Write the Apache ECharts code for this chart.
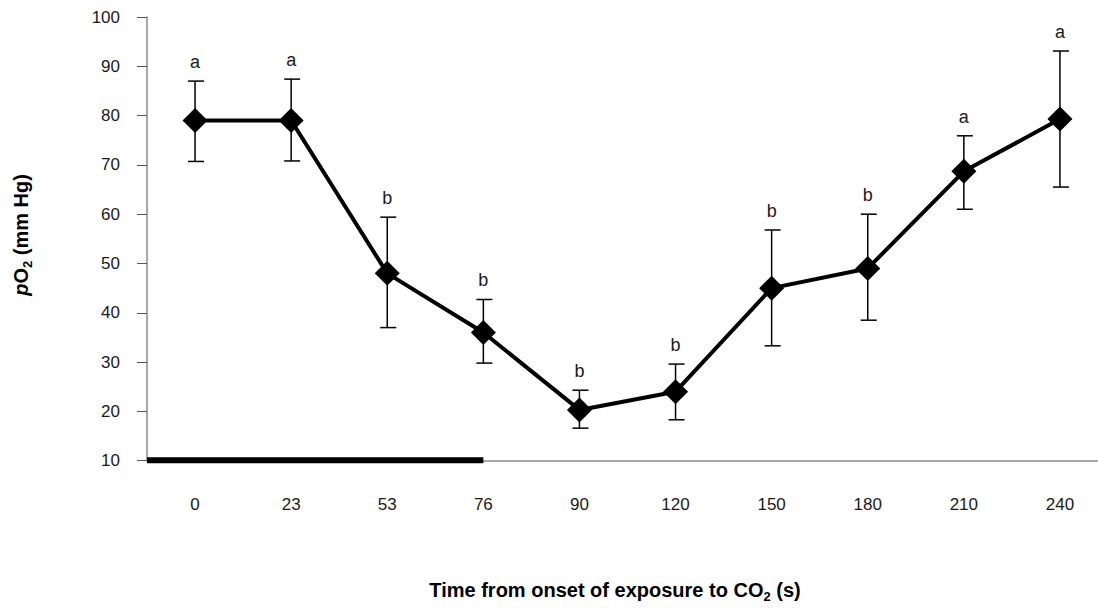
<!DOCTYPE html>
<html>
<head>
<meta charset="utf-8">
<script src="https://cdn.jsdelivr.net/npm/echarts@6/dist/echarts.min.js"></script>
<style>
html,body{margin:0;padding:0;background:#fff;}
#chart{width:1098px;height:608px;}
</style>
</head>
<body>
<div id="chart"></div>
<script>
// ---- data ----
const categories = ['0', '23', '53', '76', '90', '120', '150', '180', '210', '240'];
const meanPO2 = [79, 79, 48, 36, 20.3, 24, 45, 49, 68.7, 79.3];
const errLow  = [70.7, 70.8, 37, 29.8, 16.6, 18.3, 33.3, 38.5, 61, 65.5];
const errHigh = [87, 87.4, 59.4, 42.7, 24.3, 29.6, 56.8, 60, 75.9, 93.1];
const groupLetters = ['a', 'a', 'b', 'b', 'b', 'b', 'b', 'b', 'a', 'a'];
const co2Exposure = ['0', '76'];   // exposure period (start category, end category)
const yTicks = { min: 10, max: 100, interval: 10 };

const textColor = '#1a1a1a';
const fontFam = 'Liberation Sans, Arial, sans-serif';

const errData = categories.map((c, i) => [i, errLow[i], errHigh[i], groupLetters[i]]);

const chart = echarts.init(document.getElementById('chart'), null, { renderer: 'svg' });

const rich = {
  b: { fontSize: 20, fontWeight: 'bold', fontFamily: fontFam, color: textColor, lineHeight: 26 },
  i: { fontSize: 20, fontWeight: 'bold', fontStyle: 'italic', fontFamily: fontFam, color: textColor, lineHeight: 26 },
  s: { fontSize: 13, fontWeight: 'bold', fontFamily: fontFam, color: textColor, verticalAlign: 'bottom' }
};

chart.setOption({
  animation: false,
  backgroundColor: '#fff',
  grid: { left: 147, top: 17, width: 961, height: 443.7, containLabel: false, outerBoundsMode: 'none' },
  xAxis: {
    type: 'category',
    data: categories,
    boundaryGap: true,
    axisLine: { lineStyle: { color: '#8a8a8a', width: 1.5 } },
    axisTick: { alignWithLabel: true, length: 9, lineStyle: { color: '#333', width: 1 } },
    axisLabel: { margin: 35, fontSize: 17, color: textColor, fontFamily: fontFam },
    splitLine: { show: false }
  },
  yAxis: {
    type: 'value',
    min: yTicks.min, max: yTicks.max, interval: yTicks.interval,
    axisLine: { show: true, lineStyle: { color: '#8a8a8a', width: 1.5 } },
    axisTick: { show: true, length: 10, lineStyle: { color: '#555', width: 1 } },
    axisLabel: { margin: 27, fontSize: 17, color: textColor, fontFamily: fontFam },
    splitLine: { show: false }
  },
  graphic: [
    {
      type: 'text', x: 615, y: 590,
      style: {
        text: '{b|Time from onset of exposure to CO}{s|2}{b| (s)}',
        rich: rich, align: 'center', verticalAlign: 'middle'
      }
    },
    {
      type: 'text', x: 21, y: 235, rotation: Math.PI / 2,
      style: {
        text: '{i|p}{b|O}{s|2}{b| (mm Hg)}',
        rich: rich, align: 'center', verticalAlign: 'middle'
      }
    }
  ],
  series: [
    {
      type: 'custom',
      name: 'CO2 exposure',
      z: 5,
      data: [[categories.indexOf(co2Exposure[0]), categories.indexOf(co2Exposure[1]), yTicks.min]],
      renderItem: function (params, api) {
        const s = api.coord([api.value(0), api.value(2)]);
        const e = api.coord([api.value(1), api.value(2)]);
        const band = api.size([1, 0])[0];
        const x0 = s[0] - band / 2;
        return {
          type: 'rect',
          shape: { x: x0, y: s[1] - 3.5, width: e[0] - x0, height: 6 },
          style: { fill: '#000' }
        };
      },
      silent: true
    },
    {
      type: 'custom',
      name: 'error',
      z: 3,
      data: errData,
      encode: { x: 0, y: [1, 2] },
      renderItem: function (params, api) {
        const lo = api.coord([api.value(0), api.value(1)]);
        const hi = api.coord([api.value(0), api.value(2)]);
        const x = lo[0];
        const st = { stroke: '#000', lineWidth: 1.5 };
        return {
          type: 'group',
          children: [
            { type: 'line', shape: { x1: x, y1: lo[1], x2: x, y2: hi[1] }, style: st },
            { type: 'line', shape: { x1: x - 7, y1: hi[1], x2: x + 9, y2: hi[1] }, style: st },
            { type: 'line', shape: { x1: x - 7, y1: lo[1], x2: x + 9, y2: lo[1] }, style: st },
            {
              type: 'text', x: x, y: hi[1] - 10,
              style: {
                text: api.value(3), fontSize: 18, fontFamily: fontFam, fill: textColor,
                align: 'center', verticalAlign: 'bottom'
              }
            }
          ]
        };
      }
    },
    {
      type: 'line',
      name: 'pO2',
      z: 4,
      data: meanPO2,
      symbol: 'diamond',
      symbolSize: 25,
      lineStyle: { color: '#000', width: 4 },
      itemStyle: { color: '#000' }
    }
  ]
});
</script>
</body>
</html>
